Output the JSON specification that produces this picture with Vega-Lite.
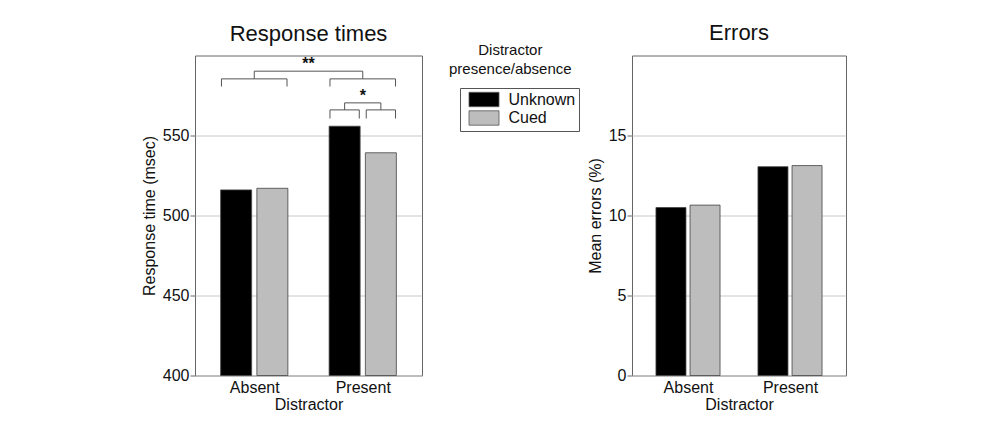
{
  "$schema": "https://vega.github.io/schema/vega-lite/v6.json",
  "padding": {"left": 140, "top": 20.5, "right": 5, "bottom": 0},
  "spacing": 6,
  "datasets": {
    "rt": [
      {"Distractor": "Absent", "Condition": "Unknown", "x": 0.833, "value": 516},
      {"Distractor": "Absent", "Condition": "Cued", "x": 1.167, "value": 517},
      {"Distractor": "Present", "Condition": "Unknown", "x": 1.833, "value": 555.8},
      {"Distractor": "Present", "Condition": "Cued", "x": 2.167, "value": 539.2}
    ],
    "err": [
      {"Distractor": "Absent", "Condition": "Unknown", "x": 0.833, "value": 10.5},
      {"Distractor": "Absent", "Condition": "Cued", "x": 1.167, "value": 10.65},
      {"Distractor": "Present", "Condition": "Unknown", "x": 1.833, "value": 13.05},
      {"Distractor": "Present", "Condition": "Cued", "x": 2.167, "value": 13.12}
    ],
    "brackets": [
      {"x": 1.0, "x2": 2.0, "y": 590.2, "y2": 590.2},
      {"x": 1.0, "x2": 1.0, "y": 590.2, "y2": 585.4},
      {"x": 2.0, "x2": 2.0, "y": 590.2, "y2": 585.4},
      {"x": 0.698, "x2": 1.302, "y": 585.4, "y2": 585.4},
      {"x": 0.698, "x2": 0.698, "y": 585.4, "y2": 580.6},
      {"x": 1.302, "x2": 1.302, "y": 585.4, "y2": 580.6},
      {"x": 1.698, "x2": 2.302, "y": 585.4, "y2": 585.4},
      {"x": 1.698, "x2": 1.698, "y": 585.4, "y2": 580.6},
      {"x": 2.302, "x2": 2.302, "y": 585.4, "y2": 580.6},
      {"x": 1.833, "x2": 2.167, "y": 570.4, "y2": 570.4},
      {"x": 1.833, "x2": 1.833, "y": 570.4, "y2": 566},
      {"x": 2.167, "x2": 2.167, "y": 570.4, "y2": 566},
      {"x": 1.698, "x2": 1.968, "y": 566, "y2": 566},
      {"x": 1.698, "x2": 1.698, "y": 566, "y2": 560.6},
      {"x": 1.968, "x2": 1.968, "y": 566, "y2": 560.6},
      {"x": 2.032, "x2": 2.302, "y": 566, "y2": 566},
      {"x": 2.032, "x2": 2.032, "y": 566, "y2": 560.6},
      {"x": 2.302, "x2": 2.302, "y": 566, "y2": 560.6}
    ],
    "stars": [
      {"x": 1.5, "y": 591.5, "label": "**"},
      {"x": 2.0, "y": 571.7, "label": "*"}
    ]
  },
  "config": {
    "font": "Liberation Sans",
    "view": {"stroke": "#666", "strokeWidth": 1},
    "axis": {
      "labelFont": "Liberation Sans",
      "titleFont": "Liberation Sans",
      "labelFontSize": 16,
      "titleFontSize": 16,
      "titleFontWeight": "normal",
      "labelColor": "#111",
      "titleColor": "#111",
      "domain": false,
      "gridColor": "#c8c8c8",
      "gridWidth": 1,
      "tickColor": "#666",
      "tickSize": 5
    },
    "title": {"fontSize": 22, "fontWeight": "normal", "color": "#111", "font": "Liberation Sans", "frame": "group"},
    "legend": {"labelFont": "Liberation Sans"}
  },
  "hconcat": [
    {
      "width": 227,
      "height": 320,
      "title": {"text": "Response times", "offset": -2.5},
      "layer": [
        {
          "data": {"name": "rt"},
          "mark": {"type": "bar", "size": 31, "stroke": "#444", "strokeWidth": 0.8},
          "encoding": {
            "x": {
              "field": "x", "type": "quantitative",
              "scale": {"domain": [0.5, 2.5], "nice": false, "zero": false},
              "axis": {"values": [1, 2], "labelExpr": "datum.value == 1 ? 'Absent' : 'Present'", "title": "Distractor", "grid": false, "ticks": false, "labelPadding": 4, "titlePadding": 1}
            },
            "y": {
              "field": "value", "type": "quantitative",
              "scale": {"domain": [400, 600], "nice": false, "zero": false},
              "axis": {"values": [400, 450, 500, 550], "title": "Response time (msec)", "grid": true, "labelPadding": 1, "titlePadding": 5}
            },
            "y2": {"datum": 400},
            "color": {
              "field": "Condition", "type": "nominal",
              "scale": {"domain": ["Unknown", "Cued"], "range": ["#000000", "#bdbdbd"]},
              "legend": {
                "title": null,
                "orient": "none",
                "legendX": 265,
                "legendY": 32.5,
                "strokeColor": "#555",
                "padding": 3.5,
                "symbolType": "M-1,-0.96H3V0.96H-1Z",
                "symbolSize": 225,
                "symbolStrokeColor": "#555",
                "symbolStrokeWidth": 0.8,
                "symbolOffset": 5,
                "labelOffset": 24,
                "labelFontSize": 16,
                "labelColor": "#111",
                "rowPadding": 0.5
              }
            }
          }
        },
        {
          "data": {"name": "brackets"},
          "mark": {"type": "rule", "color": "#555", "strokeWidth": 1},
          "encoding": {
            "x": {"field": "x", "type": "quantitative"},
            "x2": {"field": "x2"},
            "y": {"field": "y", "type": "quantitative"},
            "y2": {"field": "y2"}
          }
        },
        {
          "data": {"name": "stars"},
          "mark": {"type": "text", "fontSize": 16, "fontWeight": "bold", "baseline": "alphabetic", "align": "center", "color": "#111"},
          "encoding": {
            "x": {"field": "x", "type": "quantitative"},
            "y": {"field": "y", "type": "quantitative"},
            "text": {"field": "label"}
          }
        },
        {
          "data": {"values": [{}]},
          "mark": {"type": "text", "text": ["Distractor", "presence/absence"], "fontSize": 15, "lineHeight": 19, "baseline": "middle", "align": "center", "color": "#111"},
          "encoding": {
            "x": {"datum": 3.36},
            "y": {"datum": 603.4}
          }
        }
      ]
    },
    {
      "width": 214,
      "height": 320,
      "title": {"text": "Errors", "offset": 11},
      "data": {"name": "err"},
      "mark": {"type": "bar", "size": 30, "stroke": "#444", "strokeWidth": 0.8},
      "encoding": {
        "x": {
          "field": "x", "type": "quantitative",
          "scale": {"domain": [0.5, 2.5], "nice": false, "zero": false},
          "axis": {"values": [1, 2], "labelExpr": "datum.value == 1 ? 'Absent' : 'Present'", "title": "Distractor", "grid": false, "ticks": false, "labelPadding": 4, "titlePadding": 1}
        },
        "y": {
          "field": "value", "type": "quantitative",
          "scale": {"domain": [0, 20], "nice": false},
          "axis": {"values": [0, 5, 10, 15], "title": "Mean errors (%)", "grid": true, "labelPadding": 1, "titlePadding": 5}
        },
        "color": {
          "field": "Condition", "type": "nominal",
          "scale": {"domain": ["Unknown", "Cued"], "range": ["#000000", "#bdbdbd"]},
          "legend": null
        }
      }
    }
  ],
  "resolve": {"scale": {"y": "independent", "x": "independent"}, "legend": {"color": "independent"}}
}
